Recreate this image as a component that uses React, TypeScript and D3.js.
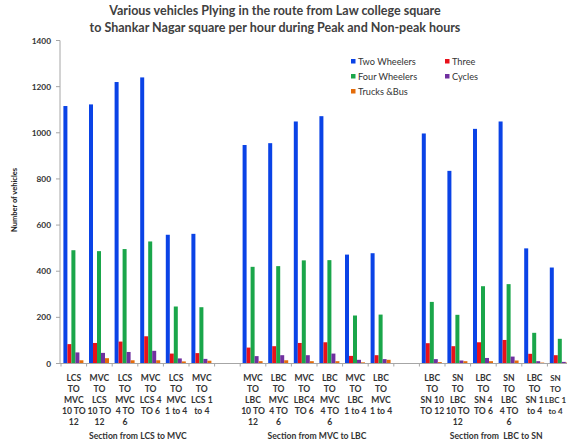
import React from "react";
import * as d3 from "d3";

const series = ["Two Wheelers", "Three", "Four Wheelers", "Cycles", "Trucks &Bus"];
const colors = ["#0a43e6", "#e8111a", "#1aa64a", "#7030a0", "#e46c0a"];

const categories = [
  "LCS TO MVC 10 TO 12", "MVC TO LCS 10 TO 12", "LCS TO MVC 4 TO 6", "MVC TO LCS 4 TO 6", "LCS TO MVC 1 to 4", "MVC TO LCS 1 to 4",
  "gap1",
  "MVC TO LBC 10 TO 12", "LBC TO MVC 4 TO 6", "MVC TO LBC4 TO 6", "LBC TO MVC 4 TO 6b", "MVC TO LBC 1 to 4", "LBC TO MVC 1 to 4",
  "gap2",
  "LBC TO SN 10 TO 12", "SN TO LBC 10 TO 12", "LBC TO SN 4 TO 6", "SN TO LBC 4 TO 6", "LBC TO SN 1 to 4", "SN TO LBC 1 to 4",
];

const labelLines: string[][] = [
  ["LCS", "TO", "MVC", "10 TO", "12"],
  ["MVC", "TO", "LCS", "10 TO", "12"],
  ["LCS", "TO", "MVC", "4 TO", "6"],
  ["MVC", "TO", "LCS 4", "TO 6"],
  ["LCS", "TO", "MVC", "1 to 4"],
  ["MVC", "TO", "LCS 1", "to 4"],
  [],
  ["MVC", "TO", "LBC", "10 TO", "12"],
  ["LBC", "TO", "MVC", "4 TO", "6"],
  ["MVC", "TO", "LBC4", "TO 6"],
  ["LBC", "TO", "MVC", "4 TO", "6"],
  ["MVC", "TO", "LBC", "1 to 4"],
  ["LBC", "TO", "MVC", "1 to 4"],
  [],
  ["LBC", "TO", "SN 10", "TO 12"],
  ["SN", "TO", "LBC", "10 TO", "12"],
  ["LBC", "TO", "SN 4", "TO 6"],
  ["SN", "TO", "LBC", "4 TO", "6"],
  ["LBC", "TO", "SN 1", "to 4"],
  ["SN", "TO", "LBC 1", "to 4"],
];

const twoWheelers = [1116, 1123, 1220, 1240, 558, 562, null, 947, 955, 1049, 1072, 472, 478, null, 997, 835, 1017, 1049, 499, 416];
const three = [84, 89, 95, 118, 43, 45, null, 69, 75, 89, 92, 33, 36, null, 88, 75, 92, 102, 42, 36];
const fourWheelers = [491, 487, 496, 529, 247, 244, null, 419, 422, 447, 448, 208, 212, null, 267, 211, 335, 344, 133, 107];
const cycles = [48, 46, 50, 55, 22, 20, null, 32, 36, 36, 43, 16, 19, null, 19, 13, 24, 30, 10, 7];
const trucksBus = [14, 23, 14, 14, 9, 12, null, 10, 14, 10, 10, 5, 16, null, 6, 10, 10, 13, 4, 4];

const seriesValues = [twoWheelers, three, fourWheelers, cycles, trucksBus];

const sections = [
  { label: "Section from LCS to MVC", from: 0, to: 5 },
  { label: "Section from MVC to LBC", from: 7, to: 12 },
  { label: "Section from  LBC to SN", from: 14, to: 19 },
];

const yTicks = [0, 200, 400, 600, 800, 1000, 1200, 1400];

const titleLines = [
  "Various vehicles Plying in the route from Law college square",
  "to Shankar Nagar square per hour during Peak and  Non-peak hours",
];

export default function App() {
  const W = 567, H = 442;
  const x0 = 61, slot = 25.6;
  const x = d3.scaleBand<string>().domain(categories).range([x0, x0 + slot * categories.length]).paddingInner(0).paddingOuter(0);
  const x1 = d3.scaleBand<string>().domain(series).range([2.4, 22.4]).padding(0);
  const y = d3.scaleLinear().domain([0, 1400]).range([363.5, 40.5]);
  const font = "Lato, 'Open Sans', sans-serif";
  const axisColor = "#a6a6a6";

  return (
    <svg width={W} height={H} style={{ position: "absolute", left: 0, top: 0, background: "#fff" }} fontFamily={font}>
      {titleLines.map((t, i) => (
        <text key={i} x={275} y={15 + i * 17} textAnchor="middle" fontSize={12.5} fontWeight="bold" fill="#404040">{t}</text>
      ))}
      {/* y axis */}
      <line x1={x0 - 1} x2={x0 - 1} y1={y(1400)} y2={y(0)} stroke={axisColor} />
      {yTicks.map((t) => (
        <g key={t}>
          <line x1={x0 - 5} x2={x0 - 1} y1={y(t)} y2={y(t)} stroke={axisColor} />
          <text x={x0 - 10} y={y(t) + 3} textAnchor="end" fontSize={8.3} fontWeight="bold" fill="#333">{t}</text>
        </g>
      ))}
      <text transform={`translate(17,200) rotate(-90)`} textAnchor="middle" fontSize={7.5} fontWeight="bold" fill="#222">Number of vehicles</text>
      {/* bars */}
      {categories.map((c, ci) => (
        <g key={c}>
          {series.map((s, si) => {
            const v = seriesValues[si][ci];
            if (v == null) return null;
            return (
              <rect key={s} x={(x(c) as number) + (x1(s) as number)} width={x1.bandwidth()} y={y(v)} height={y(0) - y(v)} fill={colors[si]} />
            );
          })}
        </g>
      ))}
      {/* x axis */}
      <line x1={x0 - 1} x2={W} y1={y(0)} y2={y(0)} stroke={axisColor} />
      {categories.map((c) => (
        <line key={"t" + c} x1={x(c) as number} x2={x(c) as number} y1={y(0)} y2={y(0) + 3} stroke={axisColor} />
      ))}
      {categories.map((c, ci) => {
        const last = ci === categories.length - 1;
        const cx = last ? W - 11.5 : (x(c) as number) + slot / 2;
        return (
          <text key={"l" + c} textAnchor="middle" fontSize={last ? 8 : 8.6} fontWeight="bold" fill="#333">
            {labelLines[ci].map((ln, li) => (
              <tspan key={li} x={cx} y={381 + li * 11}>{ln}</tspan>
            ))}
          </text>
        );
      })}
      {sections.map((s) => {
        const cx = ((x(categories[s.from]) as number) + (x(categories[s.to]) as number) + slot) / 2;
        return (
          <text key={s.label} x={cx} y={439} textAnchor="middle" fontSize={8.6} fontWeight="bold" fill="#333" style={{ whiteSpace: "pre" }}>{s.label}</text>
        );
      })}
      {/* legend */}
      {series.map((s, i) => {
        const col = i % 2, row = Math.floor(i / 2);
        const lx = 351 + col * 94, ly = 59 + row * 15;
        return (
          <g key={s}>
            <rect x={lx} y={ly} width={4.5} height={4.5} fill={colors[i]} />
            <text x={lx + 7} y={ly + 5.5} fontSize={9.2} fill="#333">{s}</text>
          </g>
        );
      })}
    </svg>
  );
}
